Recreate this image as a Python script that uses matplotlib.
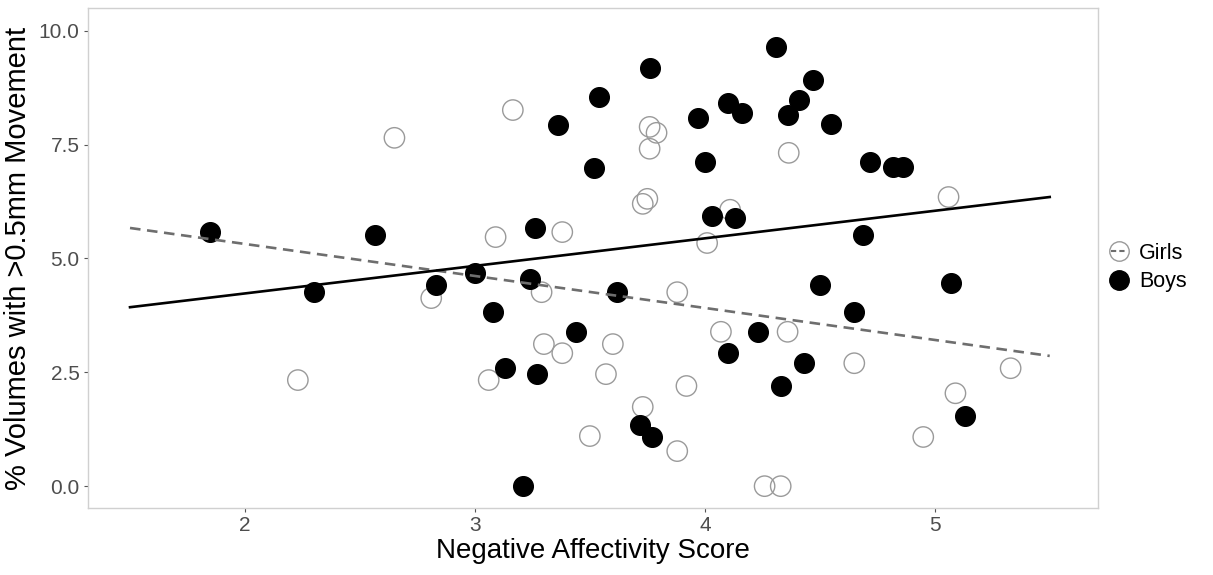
import matplotlib
matplotlib.use("Agg")
import matplotlib.pyplot as plt
from matplotlib.lines import Line2D

plt.rcParams['font.family'] = ['Liberation Sans', 'DejaVu Sans']

# girls (open circles)
girls_x = [2.23, 2.65, 2.81, 3.06, 3.09, 3.165, 3.29, 3.30, 3.38, 3.38, 3.50, 3.57,
           3.60, 3.73, 3.73, 3.75, 3.76, 3.76, 3.79, 3.88, 3.88, 3.92, 4.01, 4.07,
           4.11, 4.26, 4.33, 4.36, 4.365, 4.65, 4.95, 5.06, 5.09, 5.33]
girls_y = [2.33, 7.65, 4.13, 2.33, 5.47, 8.26, 4.26, 3.12, 2.92, 5.58, 1.10, 2.46,
           3.12, 1.74, 6.20, 6.31, 7.41, 7.89, 7.76, 4.26, 0.77, 2.20, 5.34, 3.39,
           6.07, 0.0, 0.0, 3.39, 7.32, 2.70, 1.08, 6.35, 2.04, 2.59]

# boys (filled circles)
boys_x = [1.85, 2.30, 2.565, 2.83, 3.00, 3.08, 3.13, 3.26, 3.24, 3.27, 3.21, 3.36,
          3.44, 3.52, 3.54, 3.62, 3.76, 3.72, 3.77, 3.97, 4.00, 4.03, 4.10, 4.13,
          4.16, 4.10, 4.23, 4.31, 4.36, 4.41, 4.47, 4.33, 4.43, 4.50, 4.55, 4.69,
          4.65, 4.72, 4.82, 4.86, 5.07, 5.13]
boys_y = [5.58, 4.26, 5.52, 4.42, 4.68, 3.83, 2.59, 5.67, 4.55, 2.46, 0.0, 7.93,
          3.39, 6.99, 8.55, 4.26, 9.19, 1.34, 1.08, 8.09, 7.12, 5.93, 8.42, 5.89,
          8.20, 2.92, 3.39, 9.65, 8.15, 8.48, 8.92, 2.20, 2.70, 4.42, 7.96, 5.52,
          3.82, 7.12, 7.01, 7.01, 4.46, 1.54]

# fitted lines, endpoints
fit_x = [1.5, 5.5]
girls_fit = [5.67, 2.86]
boys_fit = [3.93, 6.35]

fig = plt.figure(figsize=(12.13, 5.75), dpi=100)
ax = fig.add_axes([0.0725, 0.1165, 0.8325, 0.8695])

ax.plot(fit_x, girls_fit, color='#6e6e6e', lw=1.9, linestyle=(0, (4, 2.5)), zorder=3)
ax.plot(fit_x, boys_fit, color='black', lw=1.9, zorder=3)

ax.scatter(girls_x, girls_y, s=215, facecolors='none', edgecolors='#9a9a9a',
           linewidths=1.0, zorder=2)
ax.scatter(boys_x, boys_y, s=200, color='black', zorder=2)

ax.set_xlim(1.317, 5.709)
ax.set_ylim(-0.48, 10.5)
ax.set_xticks([2, 3, 4, 5])
ax.set_yticks([0, 2.5, 5, 7.5, 10])
ax.set_yticklabels(['0.0', '2.5', '5.0', '7.5', '10.0'])
ax.tick_params(colors='#555555', labelsize=15, length=3, width=0.8, labelcolor='#4d4d4d',
               pad=3)
for sp in ax.spines.values():
    sp.set_color('#d0d0d0')
    sp.set_linewidth(1.0)

ax.set_xlabel('Negative Affectivity Score', fontsize=20, labelpad=2)
ax.set_ylabel('% Volumes with >0.5mm Movement', fontsize=21, labelpad=5)

handles = [
    Line2D([], [], color='#6e6e6e', lw=1.5, linestyle=(0, (2.5, 1.5)), marker='o', markersize=14,
           markerfacecolor='none', markeredgecolor='#9a9a9a', markeredgewidth=1.0),
    Line2D([], [], color='black', lw=1.5, marker='o', markersize=14,
           markerfacecolor='black', markeredgecolor='black'),
]
fig.legend(handles, ['Girls', 'Boys'], loc='center left', bbox_to_anchor=(0.9, 0.535),
           frameon=False, fontsize=15.5, handlelength=0.7, handletextpad=0.6,
           labelspacing=0.35)

fig.savefig('out.png', dpi=100)
